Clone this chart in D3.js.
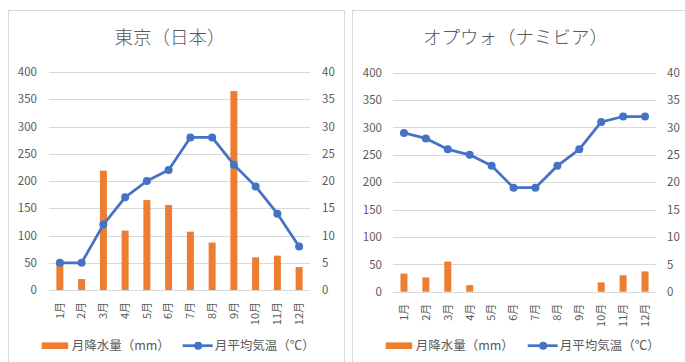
<!DOCTYPE html>
<html><head><meta charset="utf-8">
<script src="https://cdn.jsdelivr.net/npm/d3@7"></script>
<style>
html,body{margin:0;padding:0;background:#fff;}
svg{display:block;font-family:"Noto Sans CJK JP","Noto Sans",sans-serif;}
</style></head>
<body>
<svg id="chart" width="685" height="362"></svg>
<script>
const months = ["1月","2月","3月","4月","5月","6月","7月","8月","9月","10月","11月","12月"];
const precipTicks = [0,50,100,150,200,250,300,350,400];
const tempTicks = [0,5,10,15,20,25,30,35,40];
const tokyoTitle = "東京（日本）";
const tokyoPrecip = [48,20,219,109,165,156,107,87,365,60,63,42];
const tokyoTemp = [5,5,12,17,20,22,28,28,23,19,14,8];
const opuwoTitle = "オプウォ（ナミビア）";
const opuwoPrecip = [33,26,55,12,0,0,0,0,0,17,30,37];
const opuwoTemp = [29,28,26,25,23,19,19,23,26,31,32,32];
const legendPrecip = "月降水量（mm）";
const legendTemp = "月平均気温（℃）";

const ORANGE = "#ED7D31", BLUE = "#4472C4", GRID = "#d9d9d9", TXT = "#595959";
const svg = d3.select("#chart");

function drawChart(o){
  const g = svg.append("g");
  g.append("rect").attr("x",o.fx+0.5).attr("y",10.5).attr("width",o.fw).attr("height",400)
    .attr("fill","#fff").attr("stroke",GRID).attr("stroke-width",1);
  g.append("text").attr("x",o.titleX).attr("y",44).attr("text-anchor","middle")
    .attr("font-size",18.5).attr("font-weight",300).attr("fill",TXT).text(o.title);

  const x = d3.scaleBand().domain(months).range([o.x0,o.x1]).paddingInner(0).paddingOuter(0);
  const yL = d3.scaleLinear().domain([0,400]).range([o.y0,o.y1]);
  const yR = d3.scaleLinear().domain([0,40]).range([o.y0,o.y1]);

  // gridlines
  g.append("g").selectAll("line").data(precipTicks).join("line")
    .attr("x1",o.x0).attr("x2",o.x1)
    .attr("y1",d=>Math.round(yL(d))+0.5).attr("y2",d=>Math.round(yL(d))+0.5)
    .attr("stroke",GRID).attr("stroke-width",1);

  // left axis
  const axL = g.append("g").attr("transform",`translate(${o.x0},0)`)
    .call(d3.axisLeft(yL).tickValues(precipTicks).tickSize(0).tickPadding(o.padL));
  axL.select(".domain").remove();
  axL.selectAll("text").attr("font-size",11.5).attr("fill",TXT).attr("font-family","'Noto Sans CJK JP',sans-serif");
  // right axis
  const axR = g.append("g").attr("transform",`translate(${o.x1},0)`)
    .call(d3.axisRight(yR).tickValues(tempTicks).tickSize(0).tickPadding(o.padR));
  axR.select(".domain").remove();
  axR.selectAll("text").attr("font-size",11.5).attr("fill",TXT).attr("font-family","'Noto Sans CJK JP',sans-serif");

  // bars
  const bw = 7;
  g.append("g").selectAll("rect").data(o.precip).join("rect")
    .attr("x",(d,i)=>x(months[i])+x.bandwidth()/2-bw/2)
    .attr("width",bw)
    .attr("y",d=>yL(d)).attr("height",d=>yL(0)-yL(d))
    .attr("fill",ORANGE);

  // month labels
  const axB = g.append("g").attr("transform",`translate(0,${o.y0})`)
    .call(d3.axisBottom(x).tickSize(0).tickPadding(0));
  axB.select(".domain").remove();
  axB.selectAll("text")
    .attr("font-size",11).attr("fill",TXT).attr("font-family","'Noto Sans CJK JP',sans-serif")
    .attr("text-anchor","end").attr("dy","0.35em")
    .attr("transform","translate(0,12) rotate(-90)").attr("x",0).attr("y",0);

  // line
  const line = d3.line().x((d,i)=>x(months[i])+x.bandwidth()/2).y(d=>yR(d));
  g.append("path").datum(o.temp).attr("d",line).attr("fill","none")
    .attr("stroke",BLUE).attr("stroke-width",2.75).attr("stroke-linejoin","round");
  g.append("g").selectAll("circle").data(o.temp).join("circle")
    .attr("cx",(d,i)=>x(months[i])+x.bandwidth()/2).attr("cy",d=>yR(d))
    .attr("r",4).attr("fill",BLUE);

  // legend
  const ly = 345.7;
  g.append("rect").attr("x",o.lg1).attr("y",ly-3.3).attr("width",26.5).attr("height",6.6).attr("fill",ORANGE);
  g.append("text").attr("x",o.lg1+30).attr("y",ly).attr("dy","0.35em").attr("font-size",12.5).attr("fill",TXT).text(legendPrecip);
  g.append("line").attr("x1",o.lg2).attr("x2",o.lg2+30).attr("y1",ly).attr("y2",ly)
    .attr("stroke",BLUE).attr("stroke-width",2.75);
  g.append("circle").attr("cx",o.lg2+15.5).attr("cy",ly).attr("r",4).attr("fill",BLUE);
  g.append("text").attr("x",o.lg2+32).attr("y",ly).attr("dy","0.35em").attr("font-size",12.5).attr("fill",TXT).text(legendTemp);
}

drawChart({fx:8, fw:336, title:tokyoTitle, titleX:170, x0:49, x1:310, y0:290, y1:72,
  padL:12, padR:12, precip:tokyoPrecip, temp:tokyoTemp, lg1:41.7, lg2:182.7});
drawChart({fx:352, fw:340, title:opuwoTitle, titleX:515.5, x0:393, x1:656, y0:291.7, y1:72.7,
  padL:11, padR:11, precip:opuwoPrecip, temp:opuwoTemp, lg1:385.7, lg2:527.7});
</script>
</body></html>
